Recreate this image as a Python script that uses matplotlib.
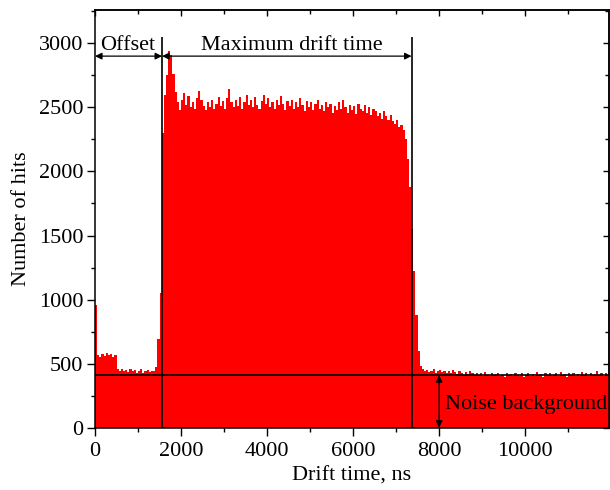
import numpy as np
import matplotlib
matplotlib.use("Agg")
import matplotlib.pyplot as plt
from matplotlib.ticker import MultipleLocator

plt.rcParams['font.family'] = ['Liberation Serif', 'DejaVu Serif']

# ---------------- data ----------------
bin_width = 50  # ns
# counts per 50 ns bin
counts_noise_before = [960, 570, 555, 575, 560, 580, 565, 575, 555, 570,
                       460, 445, 455, 440, 450, 435, 455, 440, 450, 430,
                       445, 455, 425, 440, 450, 435, 445, 440, 470, 690, 1050]
counts_rise = [2300, 2600, 2750, 2940, 2910, 2760, 2620, 2540]
counts_plateau = [2480, 2560, 2610, 2520, 2590, 2500, 2540, 2490, 2570, 2630,
                  2560, 2510, 2480, 2540, 2500, 2560, 2490, 2530, 2580, 2510,
                  2550, 2490, 2570, 2640, 2540, 2500, 2560, 2510, 2580, 2490,
                  2540, 2600, 2520, 2560, 2500, 2580, 2520, 2490, 2550, 2600,
                  2530, 2570, 2500, 2540, 2490, 2560, 2520, 2590, 2530, 2480,
                  2550, 2510, 2560, 2490, 2540, 2500, 2570, 2520, 2470, 2550,
                  2500, 2540, 2480, 2530, 2560, 2490, 2520, 2470, 2540, 2500,
                  2530, 2460, 2510, 2480, 2540, 2490, 2560, 2500, 2460, 2520,
                  2480, 2510, 2450, 2530, 2490, 2470, 2520, 2460, 2500, 2440,
                  2490, 2470, 2430, 2460, 2410, 2470, 2430, 2400, 2440, 2390,
                  2370, 2400, 2350, 2360, 2320]
counts_fall = [2250, 2100, 1880, 1550, 1220, 880, 600, 480]
counts_noise_after = [455, 440, 450, 435, 445, 460, 430, 440, 450, 435,
                      445, 430, 440, 425, 450, 435, 420, 440, 430, 415,
                      435, 420, 440, 425, 410, 430, 415, 425, 405, 435,
                      415, 400, 425, 410, 420, 430, 405, 415, 395, 425,
                      410, 420, 400, 430, 415, 405, 425, 395, 415, 430,
                      405, 420, 400, 435, 410, 420, 395, 425, 410, 430,
                      400, 415, 425, 405, 435, 410, 420, 395, 425, 410,
                      430, 405, 420, 400, 435, 415, 425, 405, 430, 410,
                      420, 440, 415, 425, 405, 430, 415, 420]

counts = np.array(counts_noise_before + counts_rise + counts_plateau
                  + counts_fall + counts_noise_after, dtype=float)
edges = np.arange(len(counts) + 1) * bin_width

offset_end = 1560        # ns
drift_end = 7360         # ns
marker_top = 3050
arrow_level = 2900
noise_level = 410
noise_arrow_x = 8000

x_ticks = [0, 2000, 4000, 6000, 8000, 10000]
y_ticks = [0, 500, 1000, 1500, 2000, 2500, 3000]

# ---------------- figure ----------------
fig = plt.figure(figsize=(6.1, 4.9), dpi=100)
ax = fig.add_axes([95/610, 1 - 427.7/490, (609 - 95)/610, (427.7 - 10)/490])

ax.stairs(counts, edges, fill=True, color='#ff0000', linewidth=0)

ax.set_xlim(0, 11950)
ax.set_ylim(0, 3260)

# marker lines
ax.vlines([offset_end, drift_end], 0, marker_top, color='black', lw=1.2, zorder=3)
ax.axhline(noise_level, color='black', lw=1.2, zorder=3)

arrow_kw = dict(arrowstyle='<|-|>', color='black', lw=0.9,
                mutation_scale=10, shrinkA=0, shrinkB=0)
ax.annotate('', xy=(0, arrow_level), xytext=(offset_end, arrow_level),
            arrowprops=arrow_kw, zorder=4)
ax.annotate('', xy=(offset_end, arrow_level), xytext=(drift_end, arrow_level),
            arrowprops=arrow_kw, zorder=4)
ax.annotate('', xy=(noise_arrow_x, noise_level), xytext=(noise_arrow_x, 0),
            arrowprops=arrow_kw, zorder=4)

fs = 16
ax.text(770, 2950, 'Offset', ha='center', va='baseline', fontsize=fs)
ax.text(4570, 2950, 'Maximum drift time',
        ha='center', va='baseline', fontsize=fs)
ax.text(8140, 144, 'Noise background', ha='left', va='baseline', fontsize=fs)

# axes styling
ax.set_xticks(x_ticks)
ax.set_yticks(y_ticks)
ax.xaxis.set_minor_locator(MultipleLocator(1000))
ax.yaxis.set_minor_locator(MultipleLocator(250))
ax.tick_params(which='major', direction='out', length=5.5, width=1.0,
               labelsize=fs, pad=3)
ax.tick_params(axis='x', which='major', pad=5)
ax.tick_params(which='minor', direction='out', length=3.2, width=1.0)
for s in ax.spines.values():
    s.set_linewidth(1.1)

top = ax.secondary_xaxis('top')
top.set_xticks(x_ticks)
top.xaxis.set_minor_locator(MultipleLocator(1000))
top.tick_params(which='both', direction='in', labeltop=False, width=1.0)
top.tick_params(which='major', length=4.5)
top.tick_params(which='minor', length=3.2)
top.spines['top'].set_linewidth(1.1)

right = ax.secondary_yaxis('right')
right.set_yticks(y_ticks)
right.yaxis.set_minor_locator(MultipleLocator(250))
right.tick_params(which='both', direction='in', labelright=False, width=1.0)
right.tick_params(which='major', length=4.5)
right.tick_params(which='minor', length=3.2)
right.spines['right'].set_linewidth(1.1)

ax.set_xlabel('Drift time, ns', fontsize=fs)
ax.set_ylabel('Number of hits', fontsize=fs)
ax.xaxis.set_label_coords(0.5, -0.093)
ax.yaxis.set_label_coords(-0.124, 0.5)

fig.savefig('out.png', dpi=100)
